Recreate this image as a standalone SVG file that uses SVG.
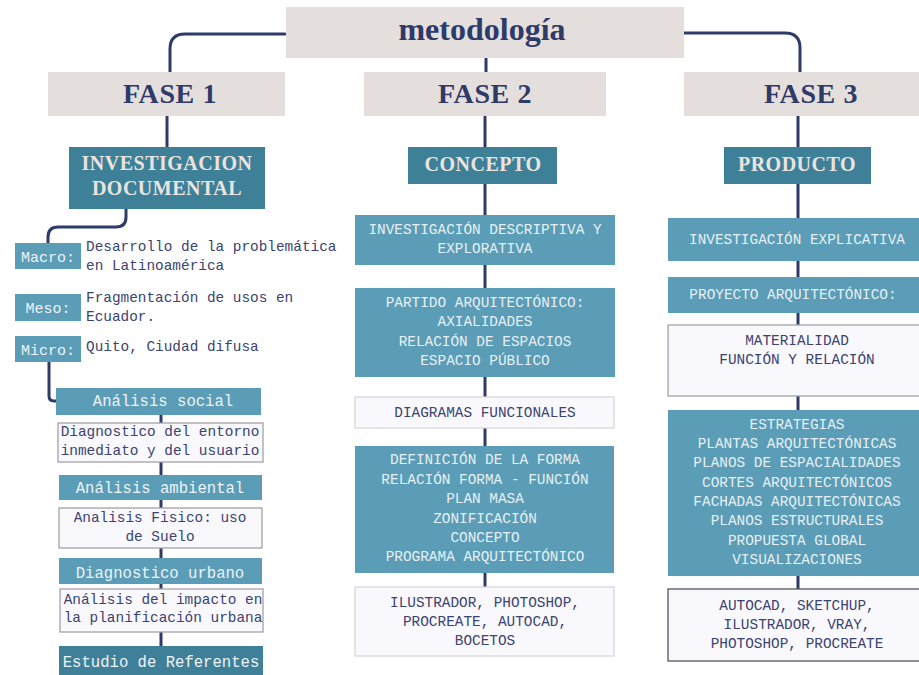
<svg xmlns="http://www.w3.org/2000/svg" width="919" height="675" viewBox="0 0 919 675">
<style>
.bg{fill:#ffffff}
.beige{fill:#e4dfdc}
.dark{fill:#3f8099}
.light{fill:#5b9db7}
.white{fill:#f9f8fd;stroke:#a3a3a8;stroke-width:1.3}
.con{fill:none;stroke:#2e3a68;stroke-width:3;stroke-linecap:round}
.t-title{font-family:"Liberation Serif","DejaVu Serif",serif;font-weight:bold;fill:#2e3a68;text-anchor:middle}
.t-head{font-family:"Liberation Serif","DejaVu Serif",serif;font-weight:bold;fill:#ebe4de;text-anchor:middle;font-size:20px;letter-spacing:0.5px}
.t-lt{font-family:"Liberation Mono","DejaVu Sans Mono",monospace;fill:#e6f0f4;text-anchor:middle;font-size:14.4px}
.t-dk{font-family:"Liberation Mono","DejaVu Sans Mono",monospace;fill:#3b4370;text-anchor:middle;font-size:14.4px}
.t-lab{font-family:"Liberation Mono","DejaVu Sans Mono",monospace;fill:#eef3f6;text-anchor:middle;font-size:15px}
.t-desc{font-family:"Liberation Mono","DejaVu Sans Mono",monospace;fill:#3b4370;font-size:14.4px}
.t-sub{font-family:"Liberation Mono","DejaVu Sans Mono",monospace;fill:#eef3f6;text-anchor:middle;font-size:15.6px}
</style>
<rect class="bg" x="0" y="0" width="919" height="675"/>
<g id="connectors">
  <path class="con" d="M285,34 H185 Q170,34 170,49 V72"/>
  <path class="con" d="M684,33 H785 Q800,33 800,48 V72"/>
  <path class="con" d="M486,58 V72"/>
  <path class="con" d="M167,116 V180"/>
  <path class="con" d="M126,209 V217 Q126,227 116,227 H58 Q48,227 48,237 V243"/>
  <path class="con" d="M49,362 V396 Q49,401 54,401 H57"/>
  <path class="con" d="M161,415 V646"/>
  <path class="con" d="M485,116 V587"/>
  <path class="con" d="M798,116 V589"/>
</g>
<g id="metodologia">
  <rect class="beige" x="286" y="7" width="398" height="51"/>
  <text class="t-title" x="482" y="40" font-size="32">metodología</text>
</g>
<g id="fase1">
  <rect class="beige" x="48" y="72" width="237" height="44"/>
  <text class="t-title" x="170" y="103" font-size="28" letter-spacing="0.6">FASE 1</text>
</g>
<g id="fase2">
  <rect class="beige" x="364" y="72" width="242" height="44"/>
  <text class="t-title" x="485" y="103" font-size="28" letter-spacing="0.6">FASE 2</text>
</g>
<g id="fase3">
  <rect class="beige" x="684" y="72" width="235" height="44"/>
  <text class="t-title" x="811" y="103" font-size="28" letter-spacing="0.6">FASE 3</text>
</g>
<g id="investigacion-documental">
  <rect class="dark" x="69" y="147" width="196" height="62"/>
  <text class="t-head" x="167" y="170">INVESTIGACION</text>
  <text class="t-head" x="167" y="195">DOCUMENTAL</text>
</g>
<g id="macro">
  <rect class="light" x="15" y="243" width="66" height="26"/>
  <text class="t-lab" x="48" y="262">Macro:</text>
  <text class="t-desc" x="86" y="251">Desarrollo de la problemática</text>
  <text class="t-desc" x="86" y="270">en Latinoamérica</text>
</g>
<g id="meso">
  <rect class="light" x="15" y="294" width="66" height="27"/>
  <text class="t-lab" x="48" y="313">Meso:</text>
  <text class="t-desc" x="86" y="302">Fragmentación de usos en</text>
  <text class="t-desc" x="86" y="321">Ecuador.</text>
</g>
<g id="micro">
  <rect class="light" x="15" y="336" width="66" height="26"/>
  <text class="t-lab" x="48" y="355">Micro:</text>
  <text class="t-desc" x="86" y="351">Quito, Ciudad difusa</text>
</g>
<g id="analisis-social">
  <rect class="light" x="56" y="388" width="205" height="27"/>
  <text class="t-sub" x="163" y="406">Análisis social</text>
</g>
<g id="diagnostico-entorno">
  <rect class="white" x="58" y="423" width="205" height="39"/>
  <text class="t-dk" x="160" y="436">Diagnostico del entorno</text>
  <text class="t-dk" x="160" y="455">inmediato y del usuario</text>
</g>
<g id="analisis-ambiental">
  <rect class="light" x="59" y="475" width="203" height="25"/>
  <text class="t-sub" x="160" y="493">Análisis ambiental</text>
</g>
<g id="analisis-fisico">
  <rect class="white" x="59" y="508" width="203" height="40"/>
  <text class="t-dk" x="160" y="522">Analisis Fisico: uso</text>
  <text class="t-dk" x="160" y="541">de Suelo</text>
</g>
<g id="diagnostico-urbano">
  <rect class="light" x="59" y="558" width="203" height="26"/>
  <text class="t-sub" x="160" y="578">Diagnostico urbano</text>
</g>
<g id="analisis-impacto">
  <rect class="white" x="60" y="589" width="203" height="43"/>
  <text class="t-dk" x="163" y="604">Análisis del impacto en</text>
  <text class="t-dk" x="163" y="622">la planificación urbana</text>
</g>
<g id="estudio-referentes">
  <rect class="dark" x="59" y="646" width="204" height="29"/>
  <text class="t-sub" x="161" y="667">Estudio de Referentes</text>
</g>
<g id="concepto">
  <rect class="dark" x="408" y="147" width="149" height="37"/>
  <text class="t-head" x="483" y="171">CONCEPTO</text>
</g>
<g id="investigacion-descriptiva">
  <rect class="light" x="355" y="215" width="260" height="50"/>
  <text class="t-lt" x="485" y="234">INVESTIGACIÓN DESCRIPTIVA Y</text>
  <text class="t-lt" x="485" y="253">EXPLORATIVA</text>
</g>
<g id="partido">
  <rect class="light" x="355" y="288" width="260" height="89"/>
  <text class="t-lt" x="485" y="307">PARTIDO ARQUITECTÓNICO:</text>
  <text class="t-lt" x="485" y="326">AXIALIDADES</text>
  <text class="t-lt" x="485" y="346">RELACIÓN DE ESPACIOS</text>
  <text class="t-lt" x="485" y="365">ESPACIO PÚBLICO</text>
</g>
<g id="diagramas">
  <rect class="white" x="355" y="397" width="259" height="31" style="stroke:#d8d8de"/>
  <text class="t-dk" x="485" y="417">DIAGRAMAS FUNCIONALES</text>
</g>
<g id="definicion">
  <rect class="light" x="355" y="446" width="259" height="127"/>
  <text class="t-lt" x="485" y="464">DEFINICIÓN DE LA FORMA</text>
  <text class="t-lt" x="485" y="484">RELACIÓN FORMA - FUNCIÓN</text>
  <text class="t-lt" x="485" y="503">PLAN MASA</text>
  <text class="t-lt" x="485" y="523">ZONIFICACIÓN</text>
  <text class="t-lt" x="485" y="542">CONCEPTO</text>
  <text class="t-lt" x="485" y="561">PROGRAMA ARQUITECTÓNICO</text>
</g>
<g id="herramientas2">
  <rect class="white" x="355" y="587" width="259" height="69" style="stroke:#d8d8de"/>
  <text class="t-dk" x="485" y="607">ILUSTRADOR, PHOTOSHOP,</text>
  <text class="t-dk" x="485" y="626">PROCREATE, AUTOCAD,</text>
  <text class="t-dk" x="485" y="645">BOCETOS</text>
</g>
<g id="producto">
  <rect class="dark" x="724" y="147" width="147" height="37"/>
  <text class="t-head" x="797" y="171">PRODUCTO</text>
</g>
<g id="investigacion-explicativa">
  <rect class="light" x="668" y="218" width="251" height="43"/>
  <text class="t-lt" x="797" y="244">INVESTIGACIÓN EXPLICATIVA</text>
</g>
<g id="proyecto">
  <rect class="light" x="668" y="277" width="251" height="36"/>
  <text class="t-lt" x="793" y="299">PROYECTO ARQUITECTÓNICO:</text>
</g>
<g id="materialidad">
  <rect class="white" x="668" y="325" width="252" height="71"/>
  <text class="t-dk" x="797" y="345">MATERIALIDAD</text>
  <text class="t-dk" x="797" y="364">FUNCIÓN Y RELACIÓN</text>
</g>
<g id="estrategias">
  <rect class="light" x="668" y="410" width="251" height="166"/>
  <text class="t-lt" x="797" y="429">ESTRATEGIAS</text>
  <text class="t-lt" x="797" y="448">PLANTAS ARQUITECTÓNICAS</text>
  <text class="t-lt" x="797" y="467">PLANOS DE ESPACIALIDADES</text>
  <text class="t-lt" x="797" y="487">CORTES ARQUITECTÓNICOS</text>
  <text class="t-lt" x="797" y="506">FACHADAS ARQUITECTÓNICAS</text>
  <text class="t-lt" x="797" y="525">PLANOS ESTRUCTURALES</text>
  <text class="t-lt" x="797" y="545">PROPUESTA GLOBAL</text>
  <text class="t-lt" x="797" y="564">VISUALIZACIONES</text>
</g>
<g id="herramientas3">
  <rect class="white" x="668" y="589" width="252" height="72" style="stroke:#55565c"/>
  <text class="t-dk" x="797" y="610">AUTOCAD, SKETCHUP,</text>
  <text class="t-dk" x="797" y="629">ILUSTRADOR, VRAY,</text>
  <text class="t-dk" x="797" y="648">PHOTOSHOP, PROCREATE</text>
</g>
</svg>
